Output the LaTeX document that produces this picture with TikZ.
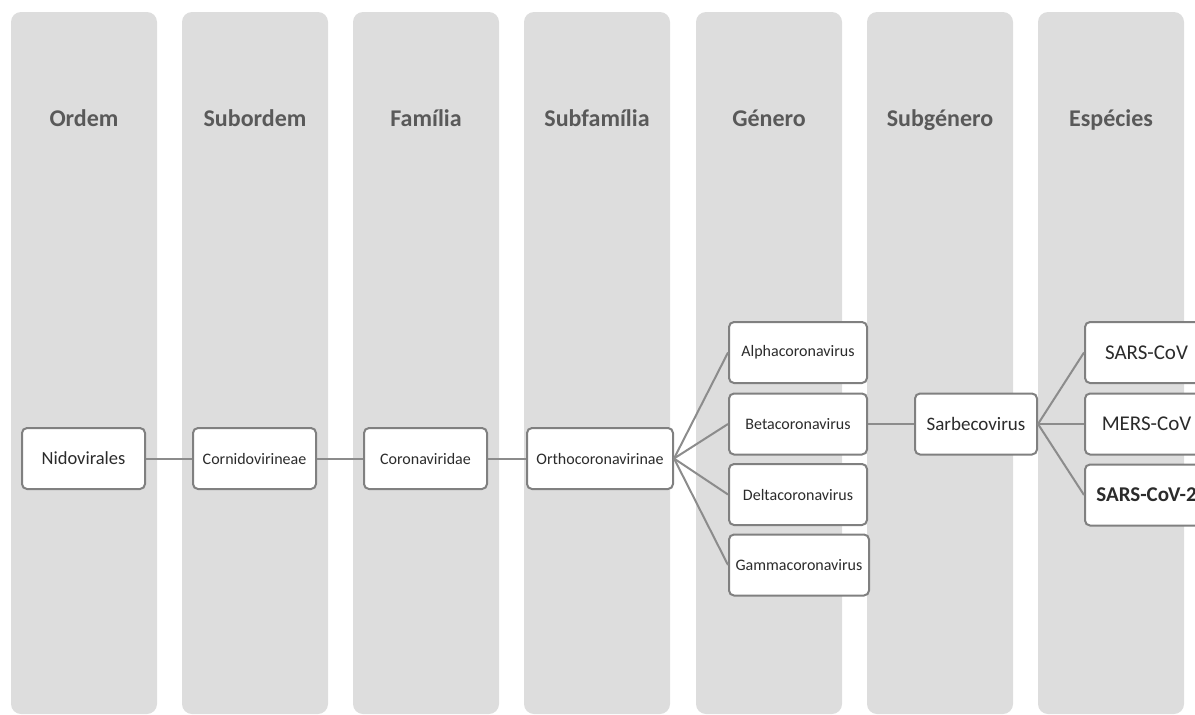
\documentclass[tikz,border=0pt]{standalone}
\usepackage{fontspec}
\setmainfont{Carlito}
\definecolor{rankfill}{HTML}{DDDDDD}
\definecolor{rankgrey}{HTML}{595959}
\definecolor{boxgrey}{HTML}{808080}
\definecolor{linkgrey}{HTML}{8C8C8C}
\definecolor{taxtext}{HTML}{2B2B2B}
\tikzset{
	rank/.style={fill=rankfill, rounded corners=10pt},
	rankname/.style={anchor=base, text=rankgrey, font=\fontsize{24}{28}\selectfont\bfseries},
	taxon/.style={draw=boxgrey, line width=2pt, fill=white, rounded corners=5pt,
		minimum width=123pt, minimum height=61pt, inner sep=0pt, text=taxtext},
	small/.style={font=\fontsize{16}{19}\selectfont},
	link/.style={draw=linkgrey, line width=2pt},
}
\begin{document}
\begin{tikzpicture}[x=1pt, y=-1pt]
		\useasboundingbox (0,0) rectangle (1195,715);
		\clip (0,0) rectangle (1195,715);
		
		\fill[rank] (11, 12) rectangle (157, 714);
		\fill[rank] (182, 12) rectangle (328, 714);
		\fill[rank] (353, 12) rectangle (499, 714);
		\fill[rank] (524, 12) rectangle (670, 714);
		\fill[rank] (696, 12) rectangle (842, 714);
		\fill[rank] (867, 12) rectangle (1013, 714);
		\fill[rank] (1038, 12) rectangle (1184, 714);
		
		\node[rankname] (ordem) at (84, 126) {Ordem};
		\node[rankname] (subordem) at (255, 126) {Subordem};
		\node[rankname] (familia) at (426, 126) {Família};
		\node[rankname] (subfamilia) at (597, 126) {Subfamília};
		\node[rankname] (genero) at (769, 126) {Género};
		\node[rankname] (subgenero) at (940, 126) {Subgénero};
		\node[rankname] (especies) at (1111, 126) {Espécies};
		
		\node[taxon, font=\fontsize{18.5}{22}\selectfont] (nido) at (83.5, 458.5) {Nidovirales};
		\node[taxon, small] (corni) at (254.5, 458.5) {Cornidovirineae};
		\node[taxon, small] (corona) at (425.5, 458.5) {Coronaviridae};
		\node[taxon, small, minimum width=146pt] (ortho) at (600, 458.5) {Orthocoronavirinae};
		\node[taxon, small, minimum width=138pt] (alpha) at (798, 352.5) {Alphacoronavirus};
		\node[taxon, small, minimum width=138pt] (beta) at (798, 424) {Betacoronavirus};
		\node[taxon, small, minimum width=138pt] (delta) at (798, 494.5) {Deltacoronavirus};
		\node[taxon, small, minimum width=140pt] (gamma) at (799, 565) {Gammacoronavirus};
		\node[taxon, font=\fontsize{19}{23}\selectfont, minimum width=122pt] (sarbe) at (976, 424) {Sarbecovirus};
		\node[taxon, font=\fontsize{21}{25}\selectfont] (sars) at (1146.5, 352.5) {SARS-CoV};
		\node[taxon, font=\fontsize{21}{25}\selectfont] (mers) at (1146.5, 424) {MERS-CoV};
		\node[taxon, font=\fontsize{21}{25}\selectfont\bfseries] (sarstwo) at (1146.5, 495) {SARS-CoV-2};
		
		\draw[link] (nido.east) -- (corni.west);
		\draw[link] (corni.east) -- (corona.west);
		\draw[link] (corona.east) -- (ortho.west);
		\draw[link] (ortho.east) -- (alpha.west);
		\draw[link] (ortho.east) -- (beta.west);
		\draw[link] (ortho.east) -- (delta.west);
		\draw[link] (ortho.east) -- (gamma.west);
		\draw[link] (beta.east) -- (sarbe.west);
		\draw[link] (sarbe.east) -- (sars.west);
		\draw[link] (sarbe.east) -- (mers.west);
		\draw[link] (sarbe.east) -- (sarstwo.west);
	\end{tikzpicture}
\end{document}
